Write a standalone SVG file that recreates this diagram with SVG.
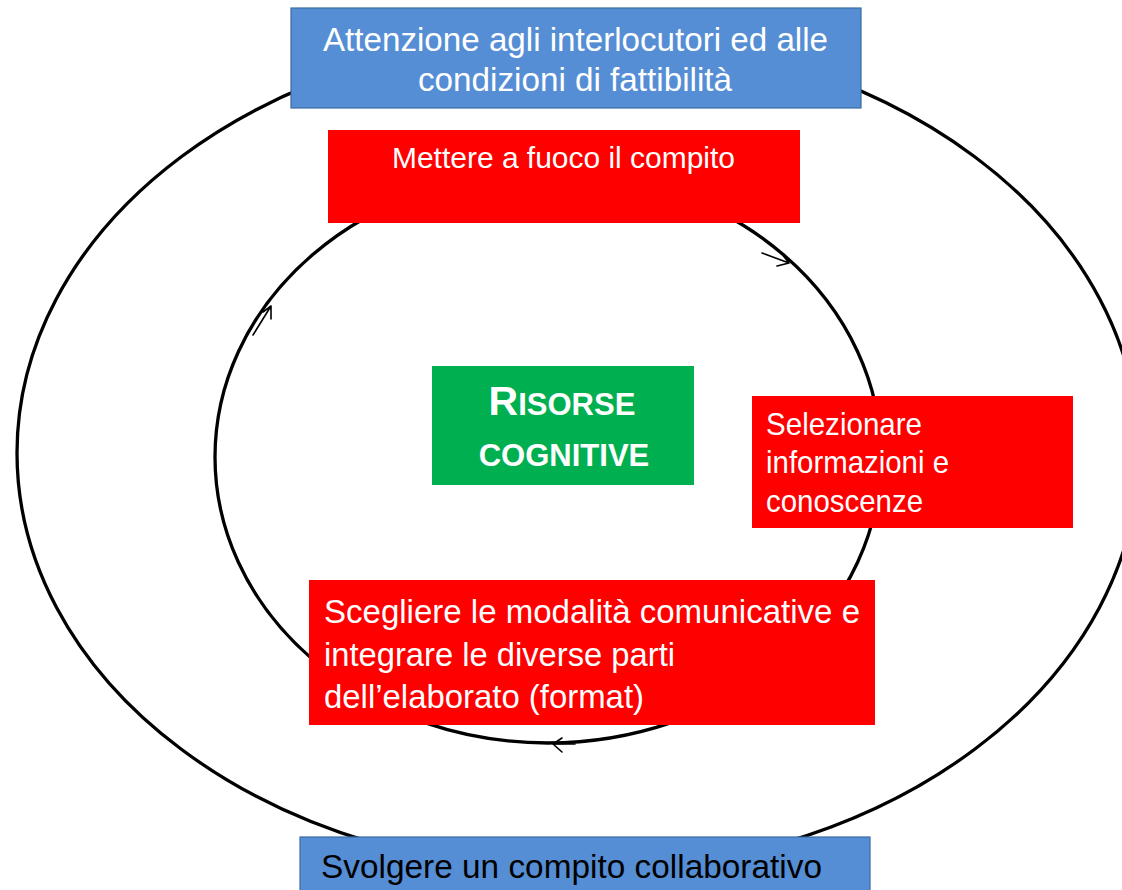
<svg xmlns="http://www.w3.org/2000/svg" width="1122" height="890" viewBox="0 0 1122 890">
<style>
.ring{fill:none;stroke:#000;stroke-width:3.3}
.arr{fill:none;stroke:#000;stroke-width:1.6;stroke-linecap:round;stroke-linejoin:round}
.blue{fill:#558ED5;stroke:#3A6BA5;stroke-width:1.2}
.red{fill:#FF0000}
.green{fill:#00B050}
.t{font-family:"Liberation Sans",Arial,sans-serif;fill:#fff}
.tb{font-family:"Liberation Sans",Arial,sans-serif;fill:#000}
.g{font-family:"Liberation Sans",Arial,sans-serif;fill:#fff;font-weight:bold;text-anchor:middle}
</style>
<rect width="1122" height="890" fill="#fff"/>
<g id="connectors">
<ellipse class="ring" cx="578" cy="453" rx="561" ry="419"/>
<ellipse class="ring" cx="548" cy="457" rx="333" ry="286"/>
<path class="arr" d="M762,253 L789,263 M782,254 L789,263 L777,266"/>
<path class="arr" d="M253,335 L271,306 M263,312 L271,306 L271,319"/>
<path class="arr" d="M575,744 L553,744 M562,738 L553,744 L562,752"/>
</g>
<g id="n-attenzione">
<rect class="blue" x="291" y="8" width="570" height="100"/>
<text class="t" font-size="34"><tspan x="323" y="51" textLength="505" lengthAdjust="spacingAndGlyphs">Attenzione agli interlocutori ed alle</tspan><tspan x="418" y="91" textLength="314" lengthAdjust="spacingAndGlyphs">condizioni di fattibilità</tspan></text>
</g>
<g id="n-mettere">
<rect class="red" x="328" y="130" width="472" height="93"/>
<text class="t" font-size="30" x="392" y="168" textLength="343" lengthAdjust="spacingAndGlyphs">Mettere a fuoco il compito</text>
</g>
<g id="n-risorse">
<rect class="green" x="432" y="366" width="262" height="119"/>
<text class="g" x="562" y="415"><tspan font-size="41">R</tspan><tspan font-size="31">ISORSE</tspan></text>
<text class="g" x="564" y="466" font-size="31">COGNITIVE</text>
</g>
<g id="n-selezionare">
<rect class="red" x="752" y="396" width="321" height="132"/>
<text class="t" font-size="32"><tspan x="766" y="435" textLength="156" lengthAdjust="spacingAndGlyphs">Selezionare</tspan><tspan x="766" y="473" textLength="183" lengthAdjust="spacingAndGlyphs">informazioni e</tspan><tspan x="766" y="512" textLength="157" lengthAdjust="spacingAndGlyphs">conoscenze</tspan></text>
</g>
<g id="n-scegliere">
<rect class="red" x="309" y="580" width="566" height="145"/>
<text class="t" font-size="34"><tspan x="324" y="623" textLength="536" lengthAdjust="spacingAndGlyphs">Scegliere le modalità comunicative e</tspan><tspan x="324" y="666" textLength="351" lengthAdjust="spacingAndGlyphs">integrare le diverse parti</tspan><tspan x="324" y="708" textLength="320" lengthAdjust="spacingAndGlyphs">dell’elaborato (format)</tspan></text>
</g>
<g id="n-svolgere">
<rect class="blue" x="300" y="837" width="570" height="60"/>
<text class="tb" font-size="34" x="321" y="878" textLength="501" lengthAdjust="spacingAndGlyphs">Svolgere un compito collaborativo</text>
</g>
</svg>
